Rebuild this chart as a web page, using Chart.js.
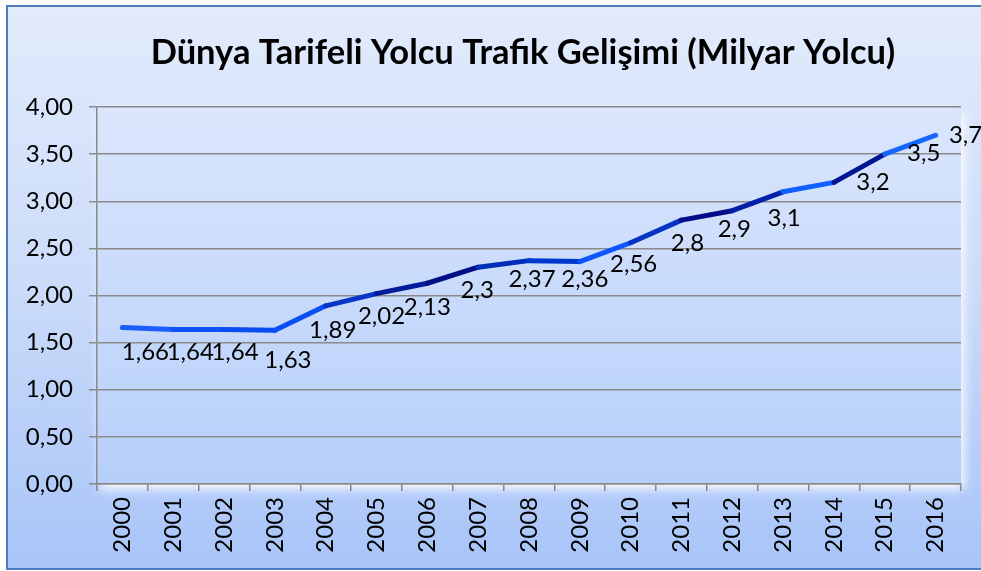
<!DOCTYPE html>
<html>
<head>
<meta charset="utf-8">
<script src="https://cdn.jsdelivr.net/npm/chart.js@4/dist/chart.umd.min.js"></script>
<style>
  html, body { margin: 0; padding: 0; background: #ffffff; }
  #wrap { width: 981px; height: 571px; }
</style>
</head>
<body>
<div id="wrap"><canvas id="traffic-chart" width="981" height="571"></canvas></div>
<script>
// Data
const years = ['2000', '2001', '2002', '2003', '2004', '2005', '2006', '2007', '2008',
               '2009', '2010', '2011', '2012', '2013', '2014', '2015', '2016'];
const passengers = [1.66, 1.64, 1.64, 1.63, 1.89, 2.02, 2.13, 2.3, 2.37,
                    2.36, 2.56, 2.8, 2.9, 3.1, 3.2, 3.5, 3.7];
const pointLabels = ['1,66', '1,64', '1,64', '1,63', '1,89', '2,02', '2,13', '2,3', '2,37',
                     '2,36', '2,56', '2,8', '2,9', '3,1', '3,2', '3,5', '3,7'];

const TITLE = 'Dünya Tarifeli Yolcu Trafik Gelişimi (Milyar Yolcu)';
const FONT = 'Lato, "Open Sans", sans-serif';

// Segment colours (line goes light/dark blue in bands)
const segmentColors = ['#1a5cff', '#0f52f7', '#0a4cf2', '#0a4ef6', '#0836c8', '#001a9c',
                       '#000e88', '#002eb8', '#0038cc', '#0d55ff', '#0733c4', '#000d88',
                       '#0520a8', '#1060ff', '#001590', '#1565ff'];

// Label offsets from each point (px), as placed in the original
const labelDx = [23, 17, 11, 13, 7, 5, 0, -1, 3, 5, 3, 6, 2, 1, 39, 39, 30];
const labelDy = [25, 23, 23, 30, 24, 23, 24, 23, 19, 18, 22, 23, 19, 26, 0, -1, 0];

const backgroundPlugin = {
    id: 'background',
    beforeDraw(chart) {
        const ctx = chart.ctx;
        const { width, chartArea } = chart;
        ctx.save();
        // outer panel
        const g = ctx.createLinearGradient(0, 6, 0, 569);
        g.addColorStop(0, '#e2ebfc');
        g.addColorStop(0.5, '#cbdbf9');
        g.addColorStop(1, '#a8c4f8');
        ctx.fillStyle = g;
        ctx.fillRect(7, 6, width, 563);
        ctx.strokeStyle = '#4a7ebb';
        ctx.lineWidth = 2;
        ctx.strokeRect(7, 6, width + 10, 563);

        // plot area with soft white glow
        const pg = ctx.createLinearGradient(0, chartArea.top, 0, chartArea.bottom);
        pg.addColorStop(0, '#dbe6fc');
        pg.addColorStop(1, '#b6cffa');
        ctx.shadowColor = 'rgba(255,255,255,0.95)';
        ctx.shadowBlur = 10;
        ctx.shadowOffsetX = 3;
        ctx.shadowOffsetY = 5;
        ctx.fillStyle = pg;
        ctx.fillRect(chartArea.left, chartArea.top,
                     chartArea.right - chartArea.left, chartArea.bottom - chartArea.top);
        ctx.restore();
    },
    afterDraw(chart) {
        const ctx = chart.ctx;
        ctx.save();
        ctx.fillStyle = '#000000';
        ctx.font = 'bold 34.5px ' + FONT;
        ctx.textAlign = 'center';
        ctx.textBaseline = 'alphabetic';
        ctx.fillText(TITLE, 523, 64);
        ctx.restore();
    }
};

const pointLabelPlugin = {
    id: 'pointLabels',
    afterDatasetsDraw(chart) {
        const ctx = chart.ctx;
        const meta = chart.getDatasetMeta(0);
        ctx.save();
        ctx.fillStyle = '#000000';
        ctx.font = '24px ' + FONT;
        ctx.textAlign = 'center';
        ctx.textBaseline = 'middle';
        meta.data.forEach((pt, i) => {
            ctx.fillText(pointLabels[i], pt.x + labelDx[i], pt.y + labelDy[i]);
        });
        ctx.restore();
    }
};

const ctx = document.getElementById('traffic-chart').getContext('2d');
const trafficChart = new Chart(ctx, {
    type: 'line',
    data: {
        labels: years,
        datasets: [{
            data: passengers,
            borderWidth: 5,
            borderColor: '#1060ff',
            borderCapStyle: 'round',
            borderJoinStyle: 'round',
            pointRadius: 0,
            tension: 0,
            segment: {
                borderColor: c => segmentColors[c.p0DataIndex]
            }
        }]
    },
    options: {
        responsive: false,
        animation: false,
        layout: { padding: { top: 107, right: 20, left: 0, bottom: 0 } },
        plugins: {
            legend: { display: false },
            title: { display: false },
            tooltip: { enabled: false }
        },
        scales: {
            x: {
                offset: true,
                afterFit: s => { s.height = 87; },
                grid: {
                    offset: true,
                    drawOnChartArea: false,
                    drawTicks: true,
                    tickLength: 7,
                    color: '#8a8a8a',
                    lineWidth: 1.5
                },
                border: { display: true, color: '#8a8a8a', width: 1.5 },
                ticks: {
                    color: '#000000',
                    font: { family: FONT, size: 24 },
                    minRotation: 90,
                    maxRotation: 90,
                    padding: 6,
                    autoSkip: false
                }
            },
            y: {
                min: 0,
                max: 4,
                afterFit: s => { s.width = 97; },
                grid: {
                    color: '#8a8a8a',
                    lineWidth: 1.5,
                    tickLength: 8
                },
                border: { display: true, color: '#8a8a8a', width: 1.5 },
                ticks: {
                    stepSize: 0.5,
                    color: '#000000',
                    font: { family: FONT, size: 24 },
                    padding: 16,
                    callback: v => v.toFixed(2).replace('.', ',')
                }
            }
        }
    },
    plugins: [backgroundPlugin, pointLabelPlugin]
});
</script>
</body>
</html>
